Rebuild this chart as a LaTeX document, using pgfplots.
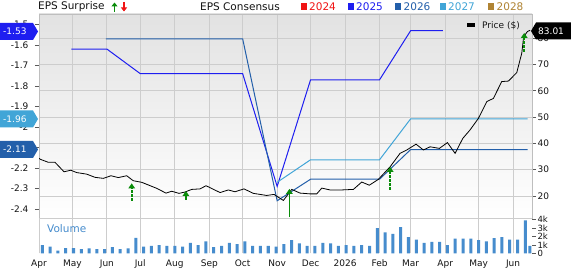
\documentclass[border=0pt]{standalone}
\usepackage{fontspec}
\setmainfont{DejaVu Sans}
\usepackage{pgfplots}
\pgfplotsset{compat=1.18}
\usetikzlibrary{arrows.meta}
\definecolor{gridc}{RGB}{205,205,205}
\definecolor{framec}{RGB}{190,190,190}
\definecolor{tickc}{RGB}{90,90,90}
\definecolor{txtc}{RGB}{20,20,20}
\definecolor{bgtop}{RGB}{226,226,226}
\definecolor{c2024}{RGB}{240,20,20}
\definecolor{c2025}{RGB}{30,30,240}
\definecolor{c2026}{RGB}{35,95,170}
\definecolor{c2027}{RGB}{65,165,215}
\definecolor{c2028}{RGB}{176,132,52}
\definecolor{volc}{RGB}{70,140,205}
\definecolor{surpg}{RGB}{10,140,10}
\pgfplotsset{
  base/.style={scale only axis, width=493pt, xmin=0, xmax=443,
    xtick={0,30,61,91,122,153,183,214,244,275,306,334,365,395,426},
    axis line style={draw=framec},
    major grid style={draw=gridc, line width=0.8pt},
    tick style={draw=tickc, line width=0.6pt},
    /pgf/number format/assume math mode=true,
    ticklabel style={font=\fontsize{9}{10}\selectfont, text=txtc},
  },
  surp/.style={surpg, line width=1.7pt, -{Triangle[width=6.5pt,length=5pt]}},
}
\begin{document}
\begin{tikzpicture}
\path[fill=white] (0pt,0pt) rectangle (571pt,266pt);
% price panel: background, grid, right ticks
\begin{axis}[base, at={(39pt,48pt)}, anchor=south west, height=204pt,
  ymin=11.63, ymax=89.2,
  axis background/.style={top color=bgtop, bottom color=white},
  xmajorgrids, ymajorgrids, xticklabels={}, xtick style={draw=none},
  ytick={20,30,40,50,60,70,80}, yticklabels={20,30,40,50,60,70,80},
  ytick pos=right, yticklabel pos=right, tick align=outside, major tick length=4pt,
  yticklabel style={xshift=-2pt},
]
\addplot[draw=none] coordinates {(0,50)};
\end{axis}
% EPS consensus (left axis)
\begin{axis}[base, at={(39pt,48pt)}, anchor=south west, height=204pt,
  ymin=-2.444, ymax=-1.449,
  axis line style={draw=none}, xtick=\empty,
  ytick={-2.4,-2.3,-2.2,-2.1,-2.0,-1.9,-1.8,-1.7,-1.6,-1.5},
  yticklabels={-2.4,-2.3,-2.2,{},-2,-1.9,-1.8,-1.7,-1.6,-1.5},
  ytick pos=left, tick align=outside, major tick length=4pt,
  yticklabel style={xshift=-3pt},
]
\addplot[c2025, line width=1pt] coordinates {(29,-1.62)(61,-1.62)(91,-1.74)(183,-1.74)(214,-2.29)(244,-1.77)(306,-1.77)(334,-1.53)(363,-1.53)};
\addplot[c2026, line width=1pt] coordinates {(60,-1.57)(183,-1.57)(214,-2.36)(244,-2.255)(306,-2.255)(334,-2.11)(439,-2.11)};
\addplot[c2027, line width=1pt] coordinates {(214,-2.27)(244,-2.16)(306,-2.16)(334,-1.96)(439,-1.96)};
\end{axis}
% price line and surprises
\begin{axis}[base, at={(39pt,48pt)}, anchor=south west, height=204pt,
  ymin=11.63, ymax=89.2, hide axis]
\addplot[black, line width=0.8pt] coordinates {
(0,34.3)(1.5,33.9)(8.4,32.8)(14.4,32.8)(22.5,29.2)(28.5,29.8)(33.9,28.9)(42.9,28.3)(50.3,27.1)(57.8,26.7)
(64.7,27.7)(71.3,27.0)(78.8,27.7)(84.7,25.8)(92.3,25.2)(98.2,24.2)(105.8,22.9)(114.1,21.1)(119.3,21.8)
(125.8,21.0)(131.2,21.5)(137.2,22.5)(144.7,22.7)(150.1,23.9)(162.7,21.3)(170.1,22.3)(176.1,21.6)
(184.2,22.7)(192.6,21.0)(204.6,20.2)(211.2,20.6)(219.6,18.3)(227.1,22.5)(234.6,21.1)(243.6,20.8)
(249.6,20.8)(254.1,23.0)(261.5,22.3)(272,22.3)(282.5,22.5)(290,25.3)(296.8,24.1)(304.9,26.3)
(315.5,31.1)(324.4,36.2)(330.5,37.5)(338.8,39.7)(345.4,37.5)(351.4,38.7)(359.8,38.1)(367,40.3)
(373.9,36.2)(380.8,41.9)(387.3,45.1)(394.8,49.5)(402.4,55.9)(408.3,57.1)(415.8,63.5)(421.8,63.7)
(429.3,66.9)(433.8,74.3)(435.5,80.5)(438.8,82.5)(441.3,83.01)};
\addplot[surp, dash pattern=on 2.5pt off 1.5pt] coordinates {(83.3,18.2)(83.3,24.8)};
\addplot[surp, dash pattern=on 2.5pt off 1.5pt] coordinates {(132,18.5)(132,21.9)};
\addplot[surp] coordinates {(225,12.0)(225,22.7)};
\addplot[surp, dash pattern=on 2.5pt off 1.5pt] coordinates {(315.5,22.3)(315.5,31.1)};
\addplot[surp, dash pattern=on 2.5pt off 1.5pt] coordinates {(436,74.8)(436,82.0)};
\end{axis}
% volume panel
\begin{axis}[base, at={(39pt,12.5pt)}, anchor=south west, height=35.5pt,
  ymin=0, ymax=4.18, axis line style={draw=none},
  xmajorgrids, xtick style={draw=none},
  xticklabels={Apr,May,Jun,Jul,Aug,Sep,Oct,Nov,Dec,2026,Feb,Mar,Apr,May,Jun},
  xticklabel style={yshift=1.5pt},
  ytick={0,1,2,3,4}, yticklabels={0,1k,2k,3k,4k},
  ytick pos=right, yticklabel pos=right, tick align=outside, major tick length=4pt,
  yticklabel style={font=\fontsize{8.5}{8.5}\selectfont, xshift=-2pt},
]
\addplot[ybar, bar width=2.7, bar shift=0pt, fill=volc, draw=none] coordinates {
(3,1.0)(10,0.81)(17,0.33)(24,0.63)(31,0.63)(38,0.52)(45,0.59)(52,0.52)(59,0.52)(66,0.74)
(73,0.52)(80,0.59)(87,1.85)(94,0.81)(101,0.89)(108,1.0)(115,0.89)(122,0.89)(129,0.81)(136,1.26)
(143,1.0)(150,1.44)(157,0.74)(164,0.89)(171,1.26)(178,1.11)(185,1.44)(192,0.89)(199,0.89)(206,0.89)
(213,0.81)(220,1.11)(227,1.56)(234,1.19)(241,0.89)(248,0.89)(255,1.26)(262,1.19)(269,0.89)(276,1.0)
(283,0.89)(290,1.0)(297,0.89)(304,3.0)(311,2.48)(318,2.3)(325,3.1)(332,1.93)(339,1.63)(346,1.26)
(353,1.37)(360,1.37)(367,1.0)(374,1.74)(381,1.74)(388,1.74)(395,1.56)(402,1.44)(409,1.81)(416,1.93)
(423,1.63)(430,1.63)(437,3.9)(441,0.9)};
\end{axis}
% panel separator
\draw[gridc, line width=1.2pt] (39pt,47.6pt) -- (532pt,47.6pt);
% volume label
\node[anchor=west, text=volc, font=\fontsize{10.5}{11}\selectfont, inner sep=0pt] at (47pt,37pt) {Volume};
% value tags (left)
\fill[c2025] (0pt,226pt) -- (33pt,226pt) -- (38pt,234.5pt) -- (33pt,243pt) -- (0pt,243pt) -- cycle;
\node[anchor=west, text=white, font=\fontsize{9}{10}\selectfont, inner sep=0pt] at (3pt,234.5pt) {-1.53};
\fill[c2027] (0pt,138.5pt) -- (33pt,138.5pt) -- (38pt,147pt) -- (33pt,155.5pt) -- (0pt,155.5pt) -- cycle;
\node[anchor=west, text=white, font=\fontsize{9}{10}\selectfont, inner sep=0pt] at (3pt,147pt) {-1.96};
\fill[c2026] (0pt,108pt) -- (33pt,108pt) -- (38pt,116.5pt) -- (33pt,125pt) -- (0pt,125pt) -- cycle;
\node[anchor=west, text=white, font=\fontsize{9}{10}\selectfont, inner sep=0pt] at (3pt,116.5pt) {-2.11};
% value tag (right)
\fill[black] (531pt,235pt) -- (536pt,243.5pt) -- (571pt,243.5pt) -- (571pt,226.5pt) -- (536pt,226.5pt) -- cycle;
\node[anchor=west, text=white, font=\fontsize{9}{10}\selectfont, inner sep=0pt] at (538pt,235pt) {83.01};
% price legend
\fill[black] (467pt,238.5pt) rectangle (475pt,242.5pt);
\node[anchor=west, text=txtc, font=\fontsize{9}{10}\selectfont, inner sep=0pt] at (482pt,240.5pt) {Price (\$)};
% top legend
\node[anchor=west, text=txtc, font=\fontsize{10.5}{11}\selectfont, inner sep=0pt] at (38pt,259.5pt) {EPS Surprise};
\draw[surpg, line width=1.5pt, -{Triangle[width=6pt,length=4pt]}] (114.5pt,254pt) -- (114.5pt,263.5pt);
\draw[c2024, line width=1.5pt, -{Triangle[width=6pt,length=4pt]}] (124pt,264pt) -- (124pt,254.5pt);
\node[anchor=west, text=txtc, font=\fontsize{10.5}{11}\selectfont, inner sep=0pt] at (200pt,259.5pt) {EPS Consensus};
\fill[c2024] (300.5pt,256pt) rectangle (306.5pt,263pt);
\node[anchor=west, text=c2024, font=\fontsize{10.5}{11}\selectfont, inner sep=0pt] at (309pt,259.5pt) {2024};
\fill[c2025] (347.5pt,256pt) rectangle (353.5pt,263pt);
\node[anchor=west, text=c2025, font=\fontsize{10.5}{11}\selectfont, inner sep=0pt] at (356pt,259.5pt) {2025};
\fill[c2026] (395pt,256pt) rectangle (401pt,263pt);
\node[anchor=west, text=c2026, font=\fontsize{10.5}{11}\selectfont, inner sep=0pt] at (403.5pt,259.5pt) {2026};
\fill[c2027] (439.5pt,256pt) rectangle (445.5pt,263pt);
\node[anchor=west, text=c2027, font=\fontsize{10.5}{11}\selectfont, inner sep=0pt] at (448pt,259.5pt) {2027};
\fill[c2028] (488pt,256pt) rectangle (494pt,263pt);
\node[anchor=west, text=c2028, font=\fontsize{10.5}{11}\selectfont, inner sep=0pt] at (496.5pt,259.5pt) {2028};
\end{tikzpicture}
\end{document}
